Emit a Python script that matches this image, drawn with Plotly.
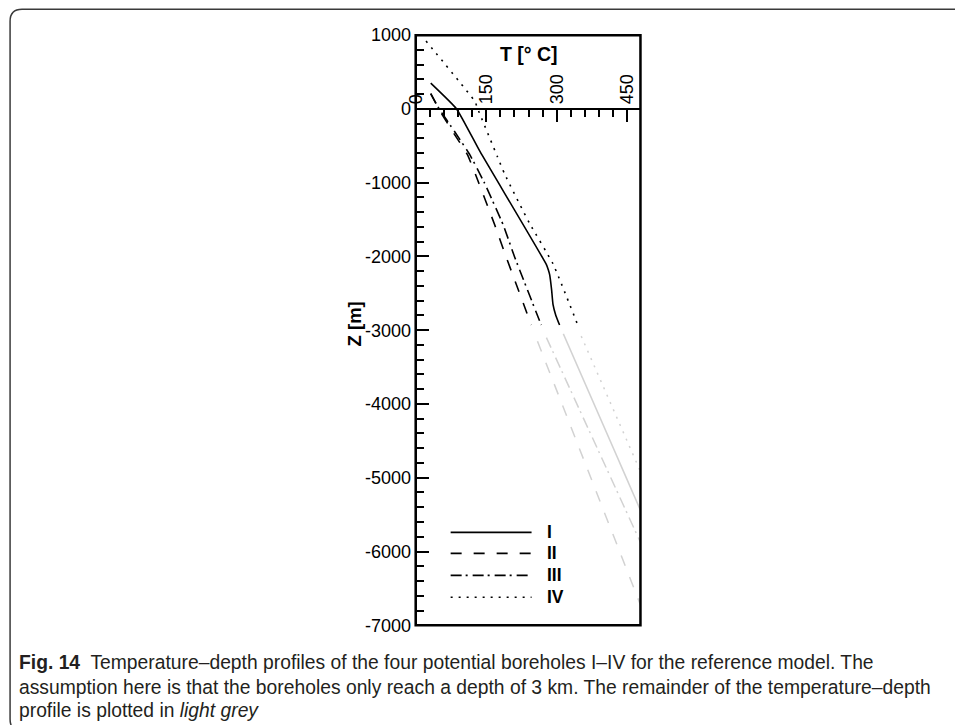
import plotly.graph_objects as go

# ---- temperature-depth profiles (T in deg C, Z in m) ----
# Borehole I
z_I = [350, 0, -580, -2110, -2180, -2250, -2450, -2650, -2800, -2930]
t_I = [32, 87, 137, 278, 282, 285, 289, 292, 298, 306]
z_I_rest = [-3050, -7000]
t_I_rest = [314, 585]

# Borehole II
z_II = [207, 0, -300, -620, -1000, -1571, -2000, -2930]
t_II = [32, 49, 78, 110, 134, 168, 192, 246]
z_II_rest = [-3150, -7000]
t_II_rest = [259, 495]

# Borehole III
z_III = [207, 0, -300, -620, -1000, -1571, -2000, -2930]
t_III = [32, 50, 82, 115, 146, 186, 210, 267]
z_III_rest = [-3100, -7000]
t_III_rest = [278, 559]

# Borehole IV
z_IV = [920, 100, 0, -650, -880, -1550, -2100, -2950]
t_IV = [22, 126, 132, 174, 189, 242, 292, 346]
z_IV_rest = [-3080, -7000]
t_IV_rest = [352, 621]

borehole_names = ["I", "II", "III", "IV"]
dash_styles = ["solid", "11px,12px", "11px,4px,2px,5px", "2px,6px"]

y_ticks = [1000, 0, -1000, -2000, -3000, -4000, -5000, -6000, -7000]
y_ticklabels = [str(v) for v in y_ticks]  # plain hyphen minus
x_ticks = [0, 150, 300, 450]
x_ticklabels = [str(v) for v in x_ticks]

T_RANGE = [0, 478]
Z_RANGE = [-7000, 1000]

# Layout positions below are given in final-page pixels; the page body keeps
# an 8px margin and the view is slightly compressed, so convert accordingly.
BODY_MARGIN = 8
S_X, S_Y = 0.9905, 0.974
W, H = 956, 728


def px(x):
    return (x / S_X - BODY_MARGIN) / W


def py(y):
    return 1 - (y / S_Y - BODY_MARGIN) / H


dom_x = [px(414), px(639)]
dom_y = [py(624), py(33)]
zero_pos = dom_y[0] + (0 - Z_RANGE[0]) / (Z_RANGE[1] - Z_RANGE[0]) * (dom_y[1] - dom_y[0])

profiles = [
    (z_I, t_I, z_I_rest, t_I_rest),
    (z_II, t_II, z_II_rest, t_II_rest),
    (z_III, t_III, z_III_rest, t_III_rest),
    (z_IV, t_IV, z_IV_rest, t_IV_rest),
]

fig = go.Figure()
GREY = "#d2d2d2"
for name, dash, (z, t, zr, tr) in zip(borehole_names, dash_styles, profiles):
    fig.add_trace(go.Scatter(x=tr, y=zr, mode="lines", name=name + " (extrapolated)",
                             line=dict(color=GREY, width=1.5, dash=dash),
                             showlegend=False, hoverinfo="skip"))
for name, dash, (z, t, zr, tr) in zip(borehole_names, dash_styles, profiles):
    fig.add_trace(go.Scatter(x=t, y=z, mode="lines", name=name,
                             line=dict(color="black", width=1.6, dash=dash,
                                       shape="spline", smoothing=0.4),
                             showlegend=False))

SANS = "Liberation Sans, Arial, Helvetica, sans-serif"
AX_FONT = dict(family=SANS, size=18, color="black")

fig.update_layout(
    width=W, height=H,
    margin=dict(l=0, r=0, t=0, b=0),
    paper_bgcolor="white", plot_bgcolor="white",
    showlegend=False,
    xaxis=dict(range=T_RANGE, domain=dom_x, anchor="free", position=zero_pos,
               side="top", showline=True, linewidth=2, linecolor="black",
               ticks="inside", ticklen=12, tickwidth=2, tickcolor="black",
               tickmode="array", tickvals=x_ticks, ticktext=x_ticklabels,
               tickangle=-90, tickfont=AX_FONT, showgrid=False, zeroline=False,
               minor=dict(dtick=30, tick0=0, ticks="inside", ticklen=7,
                          tickwidth=1.5, tickcolor="black", showgrid=False)),
    yaxis=dict(range=Z_RANGE, domain=dom_y, anchor="free", position=dom_x[0],
               showline=True, linewidth=2, linecolor="black",
               ticks="inside", ticklen=12, tickwidth=2, tickcolor="black",
               tickmode="array", tickvals=y_ticks, ticktext=y_ticklabels,
               tickfont=AX_FONT, showgrid=False, zeroline=False,
               minor=dict(dtick=200, tick0=0, ticks="inside", ticklen=7,
                          tickwidth=1.5, tickcolor="black", showgrid=False)),
)

shapes = []
# frame around the plotting area
shapes.append(dict(type="rect", xref="paper", yref="paper",
                   x0=dom_x[0], x1=dom_x[1], y0=dom_y[0], y1=dom_y[1],
                   line=dict(color="black", width=2.5), layer="above"))

# hand-drawn legend: long sample lines with bold labels
legend_rows = [531, 552, 574, 596]
for name, dash, row in zip(borehole_names, dash_styles, legend_rows):
    shapes.append(dict(type="line", xref="paper", yref="paper",
                       x0=px(449), x1=px(530), y0=py(row), y1=py(row),
                       line=dict(color="black", width=1.6, dash=dash)))


# rounded figure panel border
def pt(x, y):
    return f"{px(x):.5f},{py(y):.5f}"


panel_path = ("M " + pt(990, 7) + " L " + pt(20, 7) + " Q " + pt(8, 7) + " " + pt(8, 19)
              + " L " + pt(8, 718) + " Q " + pt(8, 730) + " " + pt(20, 730))
shapes.append(dict(type="path", xref="paper", yref="paper", path=panel_path,
                   line=dict(color="#3a3a3a", width=1.5)))

fig.update_layout(shapes=shapes)

annotations = []
BOLD = dict(family=SANS, size=17.5, color="black")
for name, row in zip(borehole_names, legend_rows):
    annotations.append(dict(x=px(543), y=py(row), xref="paper", yref="paper",
                            text=f"<b>{name}</b>", showarrow=False,
                            xanchor="left", yanchor="middle", font=BOLD))

annotations.append(dict(x=px(527), y=py(52), xref="paper", yref="paper",
                        text="<b>T [° C]</b>", showarrow=False,
                        xanchor="center", yanchor="middle",
                        font=dict(family=SANS, size=19.5, color="black")))
annotations.append(dict(x=px(353), y=py(322), xref="paper", yref="paper",
                        text="<b>Z [m]</b>", showarrow=False, textangle=-90,
                        xanchor="center", yanchor="middle",
                        font=dict(family=SANS, size=18.5, color="black")))

CAP_FONT = dict(family=SANS, size=19.3, color="#231f20")
caption_lines = [
    "<b>Fig. 14</b>  Temperature–depth profiles of the four potential boreholes I–IV for the reference model. The",
    "assumption here is that the boreholes only reach a depth of 3 km. The remainder of the temperature–depth",
    "profile is plotted in <i>light grey</i>",
]
for line, yy in zip(caption_lines, [661, 686, 709]):
    annotations.append(dict(x=px(15), y=py(yy), xref="paper", yref="paper",
                            text=line, showarrow=False, xanchor="left",
                            yanchor="middle", font=CAP_FONT))

fig.update_layout(annotations=annotations)

fig.write_html("out.html")
